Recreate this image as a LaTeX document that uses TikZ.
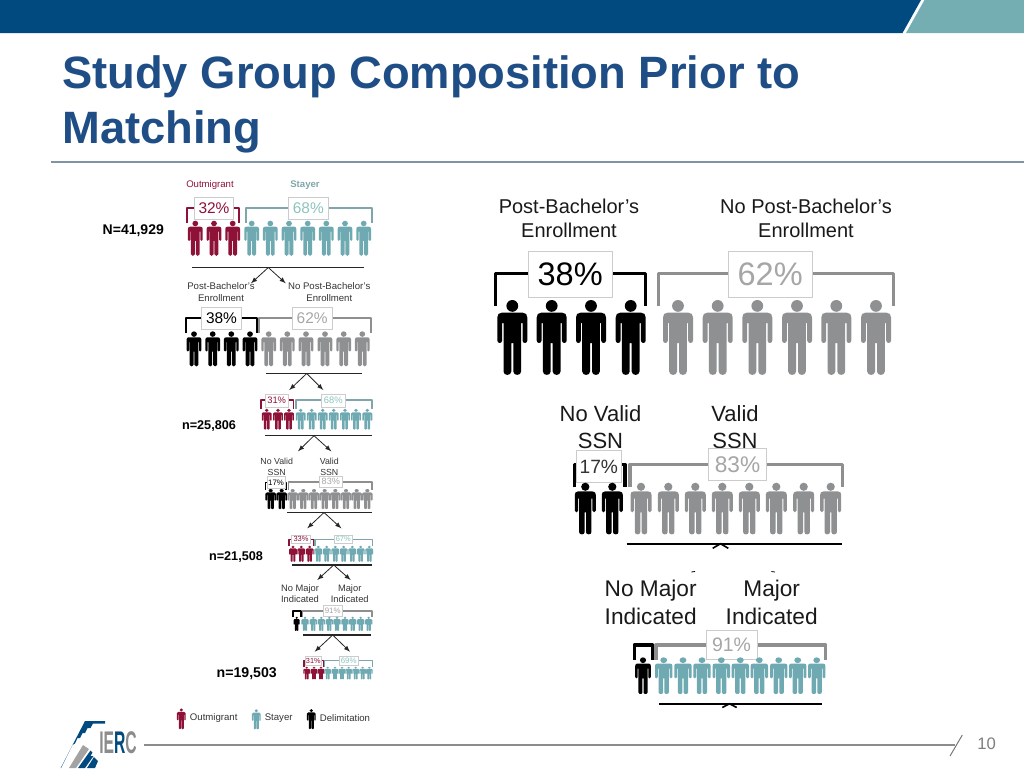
\documentclass[tikz,border=0pt]{standalone}
\usepackage{xcolor}
\usepackage{fontspec}
\setmainfont{Liberation Sans}
\usetikzlibrary{calc,positioning,arrows}

\definecolor{bandblue}{HTML}{004A80}
\definecolor{bandteal}{HTML}{74AEB3}
\definecolor{titleblue}{HTML}{1F4E86}
\definecolor{rulegray}{HTML}{7F95A3}
\definecolor{footgray}{HTML}{8C8C8C}
\definecolor{redfig}{HTML}{8E1238}
\definecolor{tealfig}{HTML}{6FA9B2}
\definecolor{grayfig}{HTML}{8F9092}
\definecolor{tealpct}{HTML}{8CC4BC}
\definecolor{graypct}{HTML}{A6A6A6}
\definecolor{boxline}{HTML}{CCCCCC}
\definecolor{bargray}{HTML}{8F8F8F}
\definecolor{barteal}{HTML}{7FA6AA}
\definecolor{bartext}{HTML}{333333}

\tikzset{
	person/.pic={
		\path[pic actions] (0,5.9) circle[radius=5.9];
		\path[pic actions] (-10.5,12.7) -- (10.5,12.7) .. controls (13.5,12.7) and (15,14.5) .. (15,17.5)
			-- (15,40.5) .. controls (15,43.8) and (10.2,43.8) .. (10.2,40.5) -- (10.2,23) -- (8.8,23)
			-- (8.8,71.5) .. controls (8.8,76) and (1,76) .. (1,71.5) -- (1,43) -- (-1,43)
			-- (-1,71.5) .. controls (-1,76) and (-8.8,76) .. (-8.8,71.5) -- (-8.8,23) -- (-10.2,23)
			-- (-10.2,40.5) .. controls (-10.2,43.8) and (-15,43.8) .. (-15,40.5) -- (-15,17.5)
			.. controls (-15,14.5) and (-13.5,12.7) .. (-10.5,12.7) -- cycle;
	},
	lbl/.style n args={2}{inner sep=0, align=center, font=\fontsize{#1}{#2}\selectfont},
	pctbox/.style n args={4}{draw=boxline, fill=white, line width=0.6pt, inner sep=0,
		minimum width=#1*0.75pt, minimum height=#2*0.75pt,
		font=\fontsize{#3}{#3}\selectfont, text=#4},
	bracket/.style={line width=#1, line join=round},
	hline/.style={draw=black!85, line width=#1},
	arrow/.style={-latex, draw=black!85, line width=0.6pt},
}

\begin{document}
\begin{tikzpicture}[x=0.75pt,y=-0.75pt]
	\useasboundingbox (0,0) rectangle (1024,768);

	% header and title
	\fill[bandblue] (0,0) -- (921,0) -- (902.5,33) -- (0,33) -- cycle;
	\fill[bandteal] (924.5,0) -- (1024,0) -- (1024,33) -- (906,33) -- cycle;
	\node[lbl={34}{41.25}, anchor=west, align=left, text=titleblue, font=\fontsize{34}{41.25}\selectfont\bfseries] (title) at (62,104.5) {Study Group Composition Prior to\\Matching};
	\coordinate (rulea) at (51,162);
	\coordinate (ruleb) at (1024,162);
	\draw[rulegray, line width=1pt] (rulea) -- (ruleb);

	% left column, first row
	\node[lbl={7.2}{8.5}, text=redfig] (outmig) at (210,184.7) {Outmigrant};
	\node[lbl={7.2}{8.5}, text=barteal, font=\fontsize{7.2}{8.5}\selectfont\bfseries] (stayer) at (305,184.7) {Stayer};
	\node[lbl={10.5}{12}, text=black, font=\fontsize{10.5}{12}\selectfont\bfseries] (nfirst) at (133.3,231) {N=41,929};
	\draw[bracket=1.5pt, redfig] (187.3,222.7) |- (239,208) -- (239,222.7);
	\draw[bracket=1.5pt, barteal] (245.7,222.7) |- (372.3,208) -- (372.3,222.7);
	\node[pctbox={39.4}{22}{11.6}{redfig}] (boxa) at (214,208.3) {32\%};
	\node[pctbox={39.4}{22}{11.6}{tealpct}] (boxb) at (308.3,208.3) {68\%};
	\foreach \x in {195.3,214,232.7}
		\pic[fill=redfig, xscale=0.49, yscale=0.47] at (\x,220.7) {person};
	\foreach \x in {251.7,270.3,289,307.7,326.3,345,363.7}
		\pic[fill=tealfig, xscale=0.49, yscale=0.47] at (\x,220.7) {person};
	\coordinate (linea) at (192.3,267.5);
	\coordinate (lineb) at (364,267.5);
	\coordinate (apexa) at (268.3,267.5);
	\coordinate (arra) at (251,283.3);
	\coordinate (arrb) at (285.7,283.3);
	\draw[hline=0.8pt] (linea) -- (lineb);
	\draw[arrow] (apexa) -- (arra);
	\draw[arrow] (apexa) -- (arrb);

	% second row
	\node[lbl={7.2}{8.5}, text=bartext] (pbleft) at (221,292) {Post-Bachelor’s\\Enrollment};
	\node[lbl={7.2}{8.5}, text=bartext] (npbleft) at (329.3,292) {No Post-Bachelor’s\\Enrollment};
	\draw[bracket=1.5pt, black] (186,333.3) |- (257,318.3) -- (257,333.3);
	\draw[bracket=1.5pt, bargray] (259,333.3) |- (370.7,318.3) -- (370.7,333.3);
	\node[pctbox={39.6}{21.6}{11.6}{black}] (boxc) at (221.5,318.5) {38\%};
	\node[pctbox={39.6}{21.6}{11.6}{graypct}] (boxd) at (312.2,318.5) {62\%};
	\foreach \x in {194,212.7,231.3,250}
		\pic[fill=black, xscale=0.49, yscale=0.47] at (\x,331.3) {person};
	\foreach \x in {268.7,287.3,306,325,343.7,362.3}
		\pic[fill=grayfig, xscale=0.49, yscale=0.47] at (\x,331.3) {person};
	\coordinate (linec) at (265.7,373.5);
	\coordinate (lined) at (362.3,373.5);
	\coordinate (apexb) at (306.7,373.5);
	\coordinate (arrc) at (289.3,390);
	\coordinate (arrd) at (323.3,390);
	\draw[hline=0.8pt] (linec) -- (lined);
	\draw[arrow] (apexb) -- (arrc);
	\draw[arrow] (apexb) -- (arrd);

	% third row
	\node[lbl={9.5}{11}, text=black, font=\fontsize{9.5}{11}\selectfont\bfseries] (nsecond) at (209,426) {n=25,806};
	\draw[bracket=1.2pt, redfig] (261,408.7) |- (293.3,400) -- (293.3,408.7);
	\draw[bracket=1.2pt, barteal] (295.7,408.7) |- (372,400) -- (372,408.7);
	\node[pctbox={22.7}{12.7}{7}{redfig}] (boxe) at (276.7,400.7) {31\%};
	\node[pctbox={23.3}{12.7}{7}{tealpct}] (boxf) at (333.3,400.7) {68\%};
	\foreach \x in {266.7,278,289}
		\pic[fill=redfig, xscale=0.33, yscale=0.28] at (\x,408.7) {person};
	\foreach \x in {300.7,311.7,322.7,333.7,345,356,367.3}
		\pic[fill=tealfig, xscale=0.33, yscale=0.28] at (\x,408.7) {person};
	\coordinate (linee) at (265,435.7);
	\coordinate (linef) at (372.3,435.7);
	\coordinate (apexc) at (314,435.7);
	\coordinate (arre) at (298,451.3);
	\coordinate (arrf) at (331.3,451.3);
	\draw[hline=0.8pt] (linee) -- (linef);
	\draw[arrow] (apexc) -- (arre);
	\draw[arrow] (apexc) -- (arrf);

	% fourth row
	\node[lbl={6.6}{8}, text=bartext] (nvleft) at (276.7,467) {No Valid\\SSN};
	\node[lbl={6.6}{8}, text=bartext] (vleft) at (329.3,467) {Valid\\SSN};
	\draw[bracket=1.2pt, black] (265.3,490) |- (286,482.3) -- (286,490);
	\draw[bracket=1.2pt, bargray] (288.3,490) |- (372,482) -- (372,490);
	\node[pctbox={18}{11.6}{5.9}{black}] (boxg) at (276,482.5) {17\%};
	\node[pctbox={22.3}{11.3}{6.8}{graypct}] (boxh) at (330.8,481.7) {83\%};
	\foreach \x in {270.7,281.7}
		\pic[fill=black, xscale=0.35, yscale=0.27] at (\x,489) {person};
	\foreach \x in {292.7,303.3,314,324.7,335.3,346,356.7,367.3}
		\pic[fill=grayfig, xscale=0.35, yscale=0.27] at (\x,489) {person};
	\coordinate (lineg) at (287.3,512.5);
	\coordinate (lineh) at (372,512.5);
	\coordinate (apexd) at (324,512.5);
	\coordinate (arrg) at (307.3,528.3);
	\coordinate (arrh) at (341.3,528.3);
	\draw[hline=0.8pt] (lineg) -- (lineh);
	\draw[arrow] (apexd) -- (arrg);
	\draw[arrow] (apexd) -- (arrh);

	% fifth row
	\node[lbl={9.5}{11}, text=black, font=\fontsize{9.5}{11}\selectfont\bfseries] (nthird) at (236,557) {n=21,508};
	\draw[bracket=1.2pt, redfig] (288.7,546) |- (313.7,539.5) -- (313.7,546);
	\draw[bracket=1.2pt, barteal] (315,546) |- (372.3,539.5) -- (372.3,546);
	\node[pctbox={19.4}{8.6}{5.6}{redfig}] (boxi) at (301,539.2) {33\%};
	\node[pctbox={18.7}{8.6}{5.6}{tealpct}] (boxj) at (343.3,539.2) {67\%};
	\foreach \x in {293,301.3,309.7}
		\pic[fill=redfig, xscale=0.26, yscale=0.215] at (\x,545.7) {person};
	\foreach \x in {318.3,326.7,335.3,343.7,352.3,360.7,369.3}
		\pic[fill=tealfig, xscale=0.26, yscale=0.215] at (\x,545.7) {person};
	\coordinate (linei) at (292,565);
	\coordinate (linej) at (372.3,565);
	\coordinate (apexe) at (333.7,565);
	\coordinate (arri) at (317.3,580);
	\coordinate (arrj) at (350.7,580);
	\draw[hline=0.8pt] (linei) -- (linej);
	\draw[arrow] (apexe) -- (arri);
	\draw[arrow] (apexe) -- (arrj);

	% sixth row
	\node[lbl={7}{8.5}, text=bartext] (nmleft) at (300,593.7) {No Major\\Indicated};
	\node[lbl={7}{8.5}, text=bartext] (mleft) at (349.7,593.7) {Major\\Indicated};
	\draw[bracket=1.2pt, black] (292.7,617.3) |- (300.7,611) -- (300.7,617.3);
	\draw[bracket=1.2pt, bargray] (302.3,617.3) |- (372,611) -- (372,617.3);
	\node[pctbox={19.3}{10.3}{5.9}{graypct}] (boxk) at (332.7,610.8) {91\%};
	\pic[fill=black, xscale=0.2, yscale=0.19] at (296.7,616.7) {person};
	\foreach \x in {305,313.3,321.3,329.3,337,345,352.7,360.7,368.7}
		\pic[fill=tealfig, xscale=0.24, yscale=0.19] at (\x,616.7) {person};
	\coordinate (linek) at (303.3,635);
	\coordinate (linel) at (371,635);
	\coordinate (apexf) at (332.7,635);
	\coordinate (arrk) at (314.7,651.7);
	\coordinate (arrl) at (350,651.7);
	\draw[hline=0.8pt] (linek) -- (linel);
	\draw[arrow] (apexf) -- (arrk);
	\draw[arrow] (apexf) -- (arrl);

	% seventh row
	\node[lbl={10.6}{12}, text=black, font=\fontsize{10.6}{12}\selectfont\bfseries] (nfourth) at (246.7,674) {n=19,503};
	\draw[bracket=1.2pt, redfig] (304,667.3) |- (323.3,660.5) -- (323.3,667.3);
	\draw[bracket=1.2pt, barteal] (324.3,667.3) |- (372.3,660.5) -- (372.3,667.3);
	\node[pctbox={16.7}{8.3}{5.5}{redfig}] (boxl) at (313.3,660.8) {31\%};
	\node[pctbox={19.3}{8.3}{5.9}{tealpct}] (boxm) at (348.7,660.8) {69\%};
	\foreach \x in {306.7,314,321}
		\pic[fill=redfig, xscale=0.22, yscale=0.17] at (\x,666.7) {person};
	\foreach \x in {327.7,335,342,348.7,355.7,362.7,369.3}
		\pic[fill=tealfig, xscale=0.22, yscale=0.17] at (\x,666.7) {person};

	% legend
	\pic[fill=redfig, xscale=0.29, yscale=0.28] at (181.3,708.3) {person};
	\pic[fill=tealfig, xscale=0.29, yscale=0.27] at (256.3,709.2) {person};
	\pic[fill=black, xscale=0.29, yscale=0.27] at (311.3,709) {person};
	\node[lbl={7.2}{8.5}, text=bartext] (legoutmig) at (213.7,717.7) {Outmigrant};
	\node[lbl={7.2}{8.5}, text=bartext] (legstayer) at (278.7,717.7) {Stayer};
	\node[lbl={7.2}{8.5}, text=bartext] (legdelim) at (345,717.7) {Delimitation};

	% right column, enrollment
	\node[lbl={15}{18}, text=black!90] (pbright) at (569,218) {Post-Bachelor’s\\Enrollment};
	\node[lbl={15}{18}, text=black!90] (npbright) at (806,218) {No Post-Bachelor’s\\Enrollment};
	\draw[bracket=2.5pt, black] (495.3,306) |- (645.7,273.5) -- (645.7,306);
	\draw[bracket=2.5pt, bargray] (658.3,306) |- (893.3,273.5) -- (893.3,306);
	\node[pctbox={83.7}{46.4}{24.4}{black}] (boxn) at (570.2,274.5) {38\%};
	\node[pctbox={83.7}{46.4}{24.4}{graypct}] (boxo) at (770.2,274.5) {62\%};
	\foreach \x in {512.3,551.7,591,630.7}
		\pic[fill=black] at (\x,300) {person};
	\foreach \x in {678,717.7,757.3,797,836.3,876}
		\pic[fill=grayfig] at (\x,300) {person};

	% right column, ssn
	\node[lbl={16.5}{20.8}, text=black!90] (nvright) at (600.5,427) {No Valid\\SSN};
	\node[lbl={16.5}{20.8}, text=black!90] (vright) at (735,427) {Valid\\SSN};
	\draw[bracket=2.5pt, black] (574.5,487.3) |- (625,464.5) -- (625,487.3);
	\draw[bracket=2.5pt, bargray] (630,486.7) |- (842.7,464.5) -- (842.7,486.7);
	\node[pctbox={44.3}{31.6}{14.4}{bartext}] (boxp) at (598.8,466.5) {17\%};
	\node[pctbox={57.6}{32}{17}{graypct}] (boxq) at (737.5,464.7) {83\%};
	\foreach \x in {585.3,612.3}
		\pic[fill=black, xscale=0.7, yscale=0.69] at (\x,482.7) {person};
	\foreach \x in {641,668.3,695.3,722.3,749.3,776.3,803.7,830.7}
		\pic[fill=grayfig, xscale=0.7, yscale=0.69] at (\x,482.7) {person};
	\coordinate (linem) at (626.7,543.7);
	\coordinate (linen) at (842,543.7);
	\coordinate (careta) at (712.7,548.3);
	\coordinate (caretb) at (720.5,543.7);
	\coordinate (caretc) at (728.3,548.3);
	\draw[hline=1.2pt, black] (linem) -- (linen);
	\draw[hline=1.2pt, black] (careta) -- (caretb) -- (caretc);
	\coordinate (ticka) at (691.3,572);
	\coordinate (tickb) at (695,571.5);
	\coordinate (tickc) at (771.3,571.5);
	\coordinate (tickd) at (775,572);
	\draw[black, line width=0.6pt] (ticka) -- (tickb);
	\draw[black, line width=0.6pt] (tickc) -- (tickd);

	% right column, major
	\node[lbl={17}{21}, text=black!90] (nmright) at (650.7,602.5) {No Major\\Indicated};
	\node[lbl={17}{21}, text=black!90] (mright) at (771.7,602.5) {Major\\Indicated};
	\draw[bracket=2.5pt, black] (634.3,660) |- (652.7,645) -- (652.7,660);
	\draw[bracket=2.5pt, bargray] (656,660) |- (825.7,645) -- (825.7,660);
	\node[pctbox={51}{28.7}{14.6}{graypct}] (boxr) at (731.5,644.7) {91\%};
	\pic[fill=black, xscale=0.52, yscale=0.49] at (643,657.3) {person};
	\foreach \x in {663.7,683,702,721.3,740.3,759.3,778.7,797.7,816.7}
		\pic[fill=tealfig, xscale=0.58, yscale=0.49] at (\x,657.3) {person};
	\coordinate (lineo) at (659.3,703.7);
	\coordinate (linep) at (822.3,703.7);
	\coordinate (caretd) at (722.3,707.5);
	\coordinate (carete) at (729.5,703.7);
	\coordinate (caretf) at (736.7,707.5);
	\draw[hline=1.2pt, black] (lineo) -- (linep);
	\draw[hline=1.2pt, black] (caretd) -- (carete) -- (caretf);

	% footer and logo
	\fill[bandblue] (60.7,768) -- (85,721) -- (105,721) -- (105,723.5) -- (93,723.5) -- (90.5,728) -- (87.5,728)
		-- (85,733) -- (82.5,733) -- (80,738) -- (77.5,738) -- (75,743.5) -- (72.5,745) -- (61,768) -- cycle;
	\fill[footgray!80] (69,768) -- (83,745) -- (89,749) -- (76,768) -- cycle;
	\fill[bandblue] (78,768) -- (90.5,750.5) -- (92.5,752.5) -- (90.5,756) -- (93.5,756) -- (85,768) -- cycle;
	\fill[bandblue] (87,768) -- (94,757) -- (98,761) -- (95,768) -- cycle;
	\node[inner sep=0, font=\fontsize{23.5}{24}\selectfont\bfseries] (logotext) at (118,742.8)
		{\scalebox{0.5}[1]{\textcolor{footgray}{IE}\textcolor{bandblue}{R}\textcolor{footgray}{C}}};
	\coordinate (foota) at (144,745);
	\coordinate (footb) at (955,745);
	\coordinate (slasha) at (962.3,735);
	\coordinate (slashb) at (950,756);
	\draw[footgray, line width=0.8pt] (foota) -- (footb);
	\draw[footgray!80!black, line width=0.7pt] (slasha) -- (slashb);
	\node[lbl={12.5}{14}, text=footgray!90!black] (pagenum) at (986.7,743.3) {10};
\end{tikzpicture}
\end{document}
